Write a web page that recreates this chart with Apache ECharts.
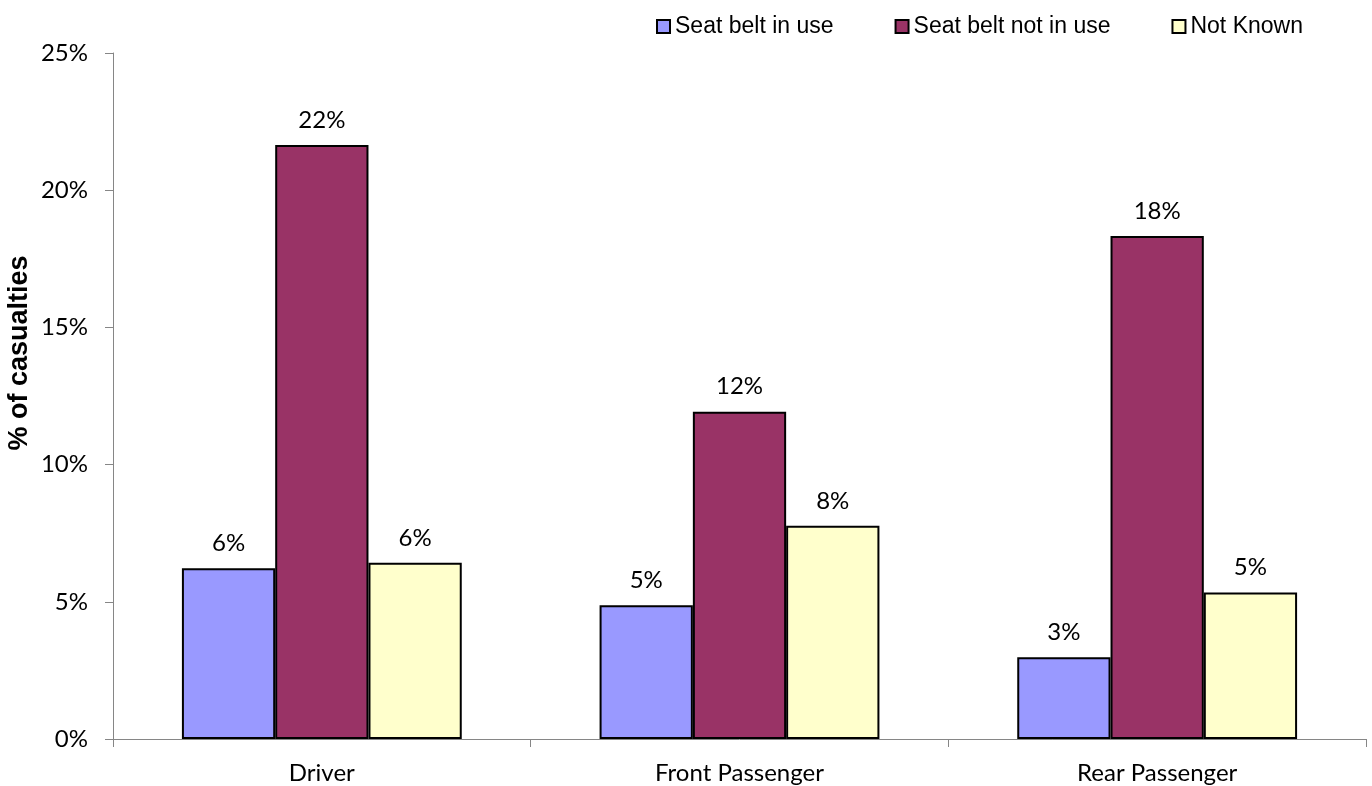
<!DOCTYPE html>
<html>
<head>
<meta charset="utf-8">
<script src="https://cdn.jsdelivr.net/npm/echarts@6/dist/echarts.min.js"></script>
<style>
html,body{margin:0;padding:0;background:#fff;}
#chart{width:1372px;height:786px;}
</style>
</head>
<body>
<div id="chart"></div>
<script>
const categories = ['Driver', 'Front Passenger', 'Rear Passenger'];
const seriesNames = ['Seat belt in use', 'Seat belt not in use', 'Not Known'];
const beltInUse = [6.22, 4.87, 2.98];
const beltNotInUse = [21.65, 11.93, 18.33];
const notKnown = [6.42, 7.77, 5.34];
const yTicks = [0, 5, 10, 15, 20, 25];
const yTitle = '% of casualties';

const colors = ['#9999FF', '#993366', '#FFFFCC'];
const tickFont = 'Lato, "Open Sans", sans-serif';

const chart = echarts.init(document.getElementById('chart'));
const mkSeries = (name, data, color) => ({
  name: name,
  type: 'bar',
  data: data,
  barGap: '0%',
  barCategoryGap: '33%',
  itemStyle: { color: color, borderColor: '#000', borderWidth: 2 },
  label: {
    show: true,
    position: 'top',
    distance: 13,
    color: '#000',
    fontFamily: tickFont,
    fontSize: 24,
    formatter: p => Math.round(p.value) + '%'
  }
});

chart.setOption({
  animation: false,
  backgroundColor: '#fff',
  grid: { left: 113, right: 6, top: 53, bottom: 47 },
  legend: {
    data: seriesNames,
    top: 10,
    left: 651,
    itemWidth: 13,
    itemHeight: 13,
    itemGap: 61,
    icon: 'rect',
    textStyle: { fontFamily: '"Liberation Sans", Arial, sans-serif', fontSize: 23, color: '#000' }
  },
  xAxis: {
    type: 'category',
    data: categories,
    axisLine: { lineStyle: { color: '#868686', width: 1 } },
    axisTick: { show: true, length: 8, lineStyle: { color: '#868686' }, alignWithLabel: false },
    axisLabel: { color: '#000', fontFamily: tickFont, fontSize: 24, margin: 22 }
  },
  yAxis: {
    type: 'value',
    min: yTicks[0],
    max: yTicks[yTicks.length - 1],
    interval: 5,
    axisLine: { show: true, lineStyle: { color: '#868686', width: 1 } },
    axisTick: { show: true, length: 8, lineStyle: { color: '#868686' } },
    splitLine: { show: false },
    axisLabel: { color: '#000', fontFamily: tickFont, fontSize: 24, margin: 25, formatter: '{value}%' }
  },
  graphic: [{
    type: 'text',
    x: 20,
    y: 353,
    rotation: Math.PI / 2,
    style: {
      text: yTitle,
      fontFamily: '"Liberation Sans", Arial, sans-serif',
      fontWeight: 'bold',
      fontSize: 27,
      fill: '#000',
      align: 'center',
      verticalAlign: 'middle'
    }
  }],
  series: [
    mkSeries(seriesNames[0], beltInUse, colors[0]),
    mkSeries(seriesNames[1], beltNotInUse, colors[1]),
    mkSeries(seriesNames[2], notKnown, colors[2])
  ]
});
</script>
</body>
</html>
